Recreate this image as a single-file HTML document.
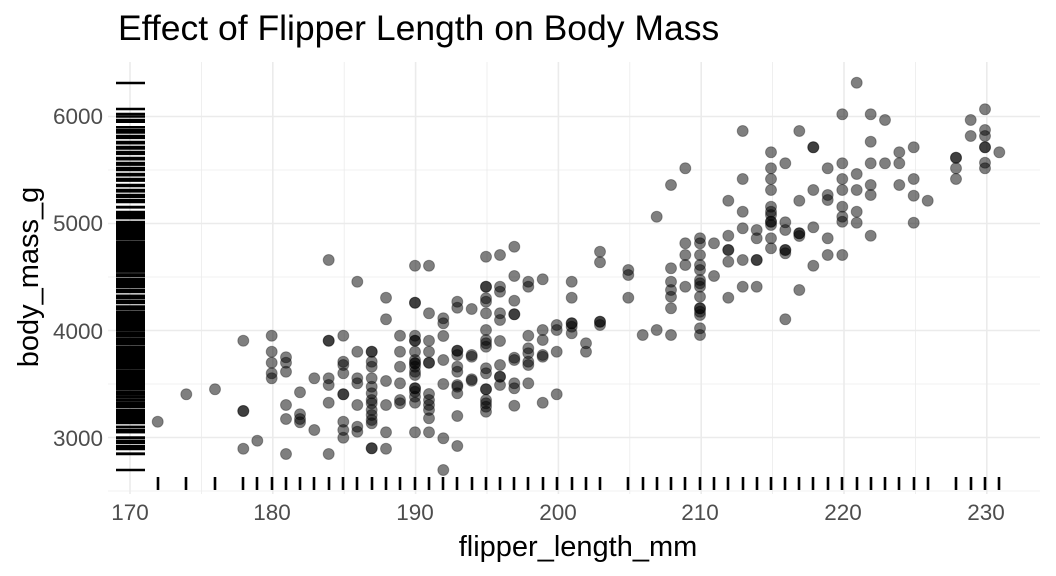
<!DOCTYPE html>
<html><head><meta charset="utf-8"><style>
html,body{margin:0;padding:0;background:#fff;}
svg{display:block;font-family:"Liberation Sans",sans-serif;}
</style></head><body>
<svg id="s" width="1056" height="576" viewBox="0 0 1056 576" xmlns="http://www.w3.org/2000/svg">
<rect width="1056" height="576" fill="#fff"/>
<g id="grid"></g>
<g id="rug"></g>
<g id="pts"></g>
<text x="118" y="40" font-size="35.5" fill="#000">Effect of Flipper Length on Body Mass</text>
<g font-size="22.5" fill="#4d4d4d" text-anchor="end">
<text x="103" y="124">6000</text>
<text x="103" y="231">5000</text>
<text x="103" y="339">4000</text>
<text x="103" y="446">3000</text>
</g>
<g font-size="22.5" fill="#4d4d4d" text-anchor="middle">
<text x="130" y="520">170</text>
<text x="272" y="520">180</text>
<text x="415" y="520">190</text>
<text x="558" y="520">200</text>
<text x="700" y="520">210</text>
<text x="843" y="520">220</text>
<text x="986" y="520">230</text>
</g>
<text x="578" y="556" font-size="29" text-anchor="middle" fill="#000">flipper_length_mm</text>
<text transform="translate(38,277) rotate(-90)" font-size="29" text-anchor="middle" fill="#000">body_mass_g</text>
</svg>
<script>
var NS="http://www.w3.org/2000/svg";
function el(p,t,a){var e=document.createElementNS(NS,t);for(var k in a)e.setAttribute(k,a[k]);p.appendChild(e);return e;}
var X=function(v){return 130+(v-170)*14.28;};
var Y=function(v){return 437.5-(v-3000)*0.107;};
var g=document.getElementById('grid');
for(var v=170;v<=230;v+=5){var maj=v%10==0;el(g,'line',{x1:X(v),x2:X(v),y1:62,y2:494,stroke:'#ebebeb','stroke-width':maj?1.6:0.8});}
for(var m=2500;m<=6000;m+=500){var y=Y(m);if(y>494||y<62)continue;var maj=m%1000==0;el(g,'line',{x1:108,x2:1040,y1:y,y2:y,stroke:'#ebebeb','stroke-width':maj?1.6:0.8});}
var z1=[[173,[575]],[259,[493]],[345,[478]],[430,[332,543,543,656]],[472,[632]],
[515,[317,365,398,430,445]],[558,[382,398,425,525,567,672]],[600,[487,553,567,577]],[643,[445,600]],
[686,[90,332,332,445,465,518,672]],[730,[317,395,405,430,493,493,575,600,623]],[772,[155,365,445,460,525,590,605]],
[815,[365,365,395,410,445,470,490,510,520,540,555,570,580,655,655]],[858,[203,268,453,525,607,656]],
[900,[317,365,410,460,510,520]],[945,[107,218,218,317,332,332,365,390,400,400,410,425,435,475,475,485,500,518,607]],
[987,[107,250,332,365,398,398,492,510,525,540,565,607]],[1030,[265,280,318,390,462,625,720]],
[1072,[215,233,362,362,375,410,425,465,470,490,558,648]],[1115,[237,375,380,448,452]],
[1158,[80,170,170,205,215,250,300,330,340,350,415,430,478,478,510,520,530,545]],
[1200,[75,170,185,250,270,333,405,440,440,465]],[1243,[50,138,212,253,253,383,390,460,475,527]],
[1285,[155,170,317,355,370,395,405,460]],[1328,[148,300,330,375,380,518]],[1370,[285,300,365,493]]];
var z2=[[35,[665,713,790,790,800,820]],[78,[850,875]],[120,[575,607,785,785,795]],[205,[630,645,713]],[248,[825]],
[290,[470,810]],[333,[375,625,665,690,710,745,825]],[376,[325,550,585,615,680]],
[420,[535,550,585,615,630,660,670,680,710,745,745,755,765,805,825]],[462,[550,648]],
[505,[422,527,570,570,605,713]],[548,[213,357,455,505,600,680]],[590,[510,535,600,600,680]],
[633,[277,325,357,390,440,455,465,485,485,495,535,565]],[676,[310,487,510,570,570,580,778]],
[718,[213,422,520,520,528,690]],[760,[262,262,390,502,617]],[803,[325,405,420,535,585]],
[847,[163,310,357,390,440,470,485,585]],[890,[68,342,390,455,488]],[932,[163,245,310,375,405,527]],
[975,[180,310]],[1018,[277,310,375]],[1061,[262,357,407,488]],[1103,[422]],[1188,[293,293,325,357]],
[1232,[180,228]],[1275,[148,210,228,262,262,308,325]],[1318,[277]]];
var P=[];
z1.forEach(function(c){c[1].forEach(function(zy){P.push([100+c[0]/3,230+zy/3]);});});
z2.forEach(function(c){c[1].forEach(function(zy){P.push([560+c[0]/3,60+zy/3]);});});
var pg=document.getElementById('pts'),rg=document.getElementById('rug');
var xs={},ys={};
P.forEach(function(p){
 el(pg,'circle',{cx:p[0].toFixed(1),cy:p[1].toFixed(1),r:5.5,fill:'rgba(0,0,0,0.5)',stroke:'rgba(0,0,0,0.3)','stroke-width':1});
 xs[Math.round(p[0])]=1; ys[Math.round(p[1])]=1;
});
for(var k in xs){el(rg,'line',{x1:k,x2:k,y1:477,y2:490,stroke:'#000','stroke-width':2.6});}
for(var k in ys){el(rg,'line',{x1:116,x2:145,y1:k,y2:k,stroke:'#000','stroke-width':2.4});}
var bands=[[3325,4000,25],[4025,4500,50],[4525,4925,25],[5000,6000,50],[2850,3300,50]];
bands.forEach(function(b){for(var m=b[0];m<=b[1];m+=b[2]){var y=Y(m);el(rg,'line',{x1:116,x2:145,y1:y,y2:y,stroke:'#000','stroke-width':2.4});}});
</script>
</body></html>
